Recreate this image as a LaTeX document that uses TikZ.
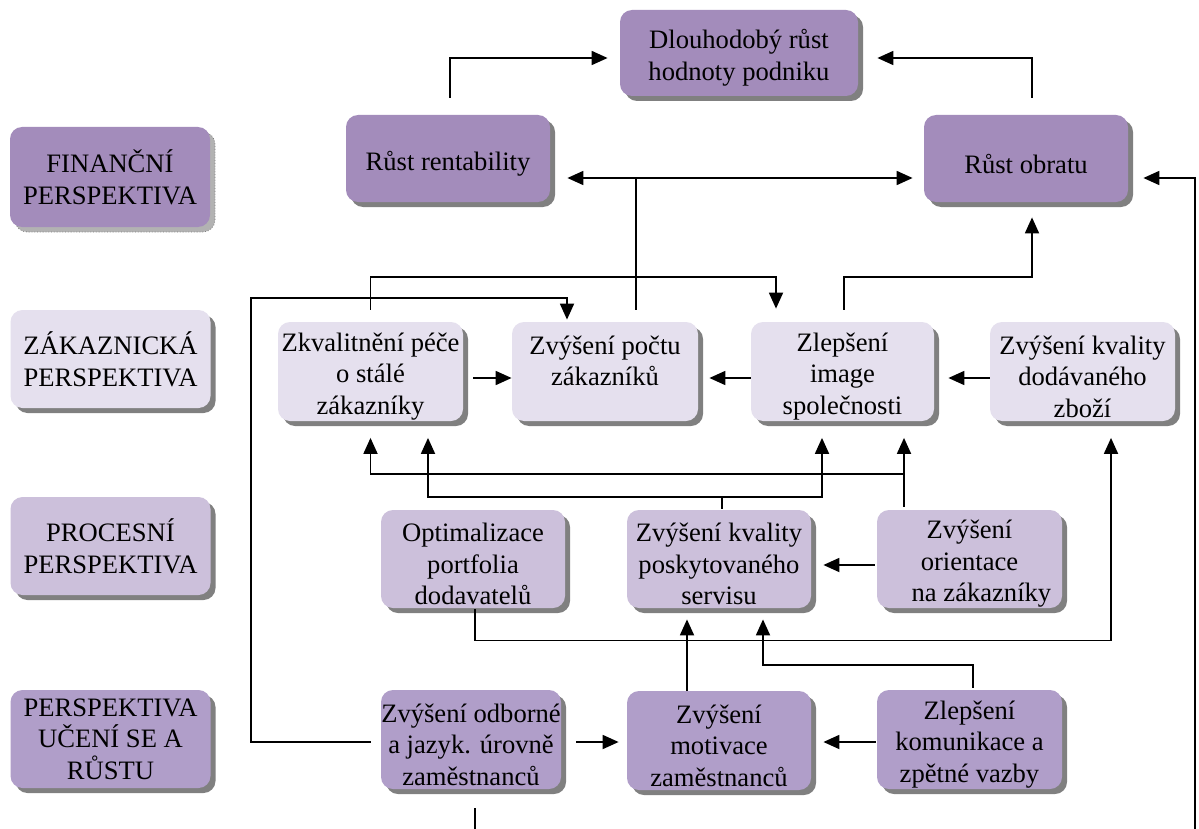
\documentclass[tikz,border=0pt]{standalone}
\usepackage{fontspec}
\setmainfont{Liberation Serif}
\usetikzlibrary{calc,shadows,arrows.meta}
\definecolor{pA}{RGB}{163,140,187}
\definecolor{pL}{RGB}{176,158,201}
\definecolor{pP}{RGB}{204,192,219}
\definecolor{pC}{RGB}{229,224,238}
\definecolor{shd}{RGB}{128,128,128}
\definecolor{shdlight}{RGB}{178,178,178}
\tikzset{
  box/.style={rounded corners=6pt, inner sep=0pt, align=center,
    font=\fontsize{13.3}{15.8}\selectfont,
    drop shadow={shadow xshift=2.5pt, shadow yshift=-2.5pt, fill=shd, opacity=1}},
  finbox/.style={box, fill=pA},
  learnbox/.style={box, fill=pL},
  procbox/.style={box, fill=pP},
  custbox/.style={box, fill=pC},
  txt/.style={inner sep=0pt, align=center, font=\fontsize{13.3}{15.8}\selectfont},
  arr/.style={line width=0.9pt, -{Triangle[length=8pt,width=7pt]}},
}
% #1 style, #2 name, #3 x, #4 y, #5 width (pt), #6 height (pt), #7 text
\newcommand\mybox[7]{%
  \node[#1, minimum width=#5pt, minimum height=#6pt] (#2) at (#3,#4) {};
  \node[txt] (#2-t) at ($(#2)+(0,5)$) {#7};}
\begin{document}
\begin{tikzpicture}[x=0.5pt,y=-0.5pt]
\useasboundingbox (0,0) rectangle (1199,829);
\fill[white] (0,0) rectangle (1199,829);
\clip (0,0) rectangle (1199,829);

% perspective labels
\node[rounded corners=6pt, inner sep=0pt, align=center, fill=pA,
      font=\fontsize{13.3}{15.8}\selectfont,
      drop shadow={shadow xshift=2.5pt, shadow yshift=-2.5pt, fill=shdlight, draw=gray, densely dotted, opacity=1},
      minimum width=100pt, minimum height=50pt] (fin) at (110,177) {FINANČNÍ\\PERSPEKTIVA};
\node[custbox, minimum width=100pt, minimum height=49pt] (zak) at (110.5,359) {ZÁKAZNICKÁ\\PERSPEKTIVA};
\node[procbox, minimum width=100pt, minimum height=49pt] (proc) at (110.5,546) {PROCESNÍ\\PERSPEKTIVA};
\node[learnbox, minimum width=100pt, minimum height=49pt] (uce) at (110.5,739) {PERSPEKTIVA\\UČENÍ SE A\\RŮSTU};

% financial
\mybox{finbox}{dl}{739}{53}{119}{43}{Dlouhodobý růst\\hodnoty podniku}
\mybox{finbox}{rr}{448}{158.5}{102}{43.5}{Růst rentability}
\mybox{finbox}{ro}{1026}{158.5}{102}{43.5}{Růst obratu}

% customer
\mybox{custbox}{c1}{370.5}{371.5}{92.5}{49.5}{Zkvalitnění péče\\o stálé\\zákazníky}
\mybox{custbox}{c2}{605}{371.5}{93}{49.5}{Zvýšení počtu\\zákazníků\\~}
\mybox{custbox}{c3}{842.5}{371.5}{91.5}{49.5}{Zlepšení\\image\\společnosti}
\mybox{custbox}{c4}{1082.5}{371.5}{92.5}{49.5}{Zvýšení kvality\\dodávaného\\zboží}

% process
\mybox{procbox}{p1}{473}{559}{92}{49}{Optimalizace\\portfolia\\dodavatelů}
\mybox{procbox}{p2}{719}{559}{92}{49}{Zvýšení kvality\\poskytovaného\\servisu}
\mybox{procbox}{p3}{969.5}{559}{92.5}{49}{Zvýšení\\orientace\\\hspace*{0.9em}na zákazníky}

% learning
\mybox{learnbox}{l1}{471}{739.5}{90}{49.5}{Zvýšení odborné\\a jazyk. úrovně\\zaměstnanců}
\mybox{learnbox}{l2}{719}{740.5}{92}{49.5}{Zvýšení\\motivace\\zaměstnanců}
\mybox{learnbox}{l3}{969.5}{739.5}{92.5}{49.5}{Zlepšení\\komunikace a\\zpětné vazby}

% connectors: financial level
\draw[arr] ($(rr.north)+(2,-17)$) |- ($(dl.west)+(-12,5)$);
\draw[arr] ($(ro.north)+(6,-17)$) |- ($(dl.east)+(19,5)$);
\draw[arr] ($(c2.north)+(31,-12)$) |- ($(rr.east)+(17,19.5)$);
\draw[arr] ($(c2.north)+(31,-12)$) |- ($(ro.west)+(-11,19.5)$);
\draw[arr] ($(c3.north)+(1.5,-12)$) -- ++(0,-33) -| ($(ro.south)+(6,15)$);

% customer level
\draw[arr] ($(c1.north)+(0,-12)$) -- ++(0,-33) -| ($(c3.north)+(-66.5,-13)$);
\draw[arr] ($(l1.west)+(-10,2.5)$) -- ++(-120,0) -- ++(0,-444) -| ($(c2.north)+(-38,-2)$);
\draw[arr] ($(c1.east)+(10,6.5)$) -- ($(c2.west)+(0,6.5)$);
\draw[arr] ($(c3.west)+(0,6.5)$) -- ($(c2.east)+(11,6.5)$);
\draw[arr] ($(c4.west)+(0,6.5)$) -- ($(c3.east)+(14,6.5)$);

% process level
\draw[arr] ($(p2.north)+(3,-1)$) -- ++(0,-12) -| ($(c1.south)+(57.5,16.5)$);
\draw[arr] ($(p2.north)+(3,-1)$) -- ++(0,-12) -| ($(c3.south)+(-20.5,16.5)$);
\draw[arr] ($(p3.north)+(-65.5,-3)$) -- ($(c3.south)+(61.5,16.5)$);
\draw[arr] ($(p3.north)+(-65.5,-3)$) -- ++(0,-33) -| ($(c1.south)+(0,16.5)$);
\draw[arr] ($(p3.west)+(-2,6)$) -- ($(p2.east)+(12,6)$);
\draw[arr] ($(p1.south)+(2,1)$) -- ++(0,31) -| ($(c4.south)+(28.5,16.5)$);

% learning level
\draw[arr] ($(l2.north)+(-32,0)$) -- ($(p2.south)+(-32,11)$);
\draw[arr] ($(l3.north)+(3.5,-2)$) -- ++(0,-23) -| ($(p2.south)+(44,11)$);
\draw[arr] ($(l3.west)+(-1,2.5)$) -- ($(l2.east)+(12,1.5)$);
\draw[arr] ($(l1.east)+(15,2.5)$) -- ($(l2.west)+(-8,1.5)$);
\draw[arr] ($(l1.south)+(4,19)$) -- ++(0,60) -- ++(720,0) |- ($(ro.east)+(15,19.5)$);
\end{tikzpicture}
\end{document}
